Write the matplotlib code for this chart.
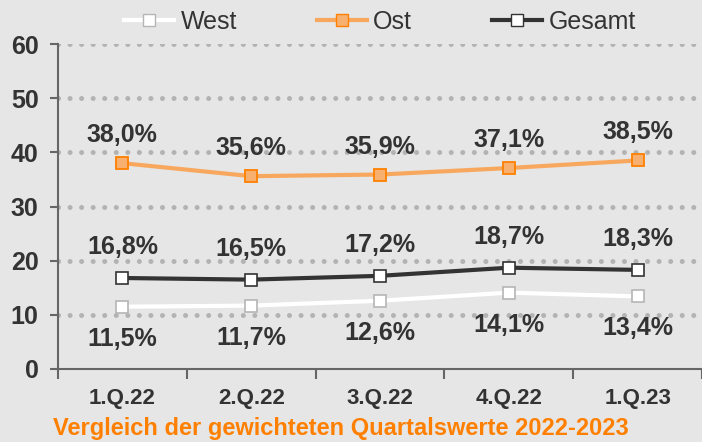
import numpy as np
import matplotlib.pyplot as plt
from matplotlib.lines import Line2D

plt.rcParams['font.family'] = ['Liberation Sans', 'DejaVu Sans']

# Daten
quartale = ['1.Q.22', '2.Q.22', '3.Q.22', '4.Q.22', '1.Q.23']
west = [11.5, 11.7, 12.6, 14.1, 13.4]
ost = [38.0, 35.6, 35.9, 37.1, 38.5]
gesamt = [16.8, 16.5, 17.2, 18.7, 18.3]

bg = '#e6e6e6'
textfarbe = '#333333'
orange_linie = '#f8a85e'
orange_titel = '#ff8000'

fig = plt.figure(figsize=(7.02, 4.42), dpi=100, facecolor=bg)
ax = fig.add_axes([58 / 702, 1 - 369 / 442, 1 - 58 / 702, 325 / 442])
ax.set_facecolor(bg)

x = np.arange(len(quartale))

# Gitterlinien (gepunktet)
for y in range(10, 61, 10):
    ax.axhline(y, color='#b3b3b3', linewidth=3.6, linestyle=(0, (0.01, 2.3)),
               dash_capstyle='round', zorder=1)

ax.plot(x, west, color='white', linewidth=3, marker='s', markersize=9,
        markerfacecolor='white', markeredgecolor='#b5b5b5', markeredgewidth=1.2, zorder=3)
ax.plot(x, ost, color=orange_linie, linewidth=3, marker='s', markersize=9,
        markerfacecolor='#f8b070', markeredgecolor='#ff8000', markeredgewidth=1.3, zorder=3)
ax.plot(x, gesamt, color='#333333', linewidth=3, marker='s', markersize=9,
        markerfacecolor='white', markeredgecolor='#333333', markeredgewidth=1.2, zorder=3)

def fmt(v):
    return f'{v:.1f}%'.replace('.', ',')

for xi, v in zip(x, ost):
    ax.annotate(fmt(v), (xi, v), xytext=(0, 28), textcoords='offset pixels',
                ha='center', va='center', fontsize=18, fontweight='bold', color=textfarbe)
for xi, v in zip(x, gesamt):
    ax.annotate(fmt(v), (xi, v), xytext=(0, 31), textcoords='offset pixels',
                ha='center', va='center', fontsize=18, fontweight='bold', color=textfarbe)
for xi, v in zip(x, west):
    ax.annotate(fmt(v), (xi, v), xytext=(0, -32), textcoords='offset pixels',
                ha='center', va='center', fontsize=18, fontweight='bold', color=textfarbe)

ax.set_xlim(-0.5, 4.5)
ax.set_ylim(0, 60)
ax.set_yticks(range(0, 61, 10))
ax.set_xticks(x)
ax.set_xticklabels(quartale)
ax.set_xticks(np.arange(-0.5, 4.6, 1), minor=True)
ax.tick_params(axis='x', which='major', length=0, pad=14, labelsize=16, labelcolor=textfarbe)
ax.tick_params(axis='x', which='minor', length=7, width=1.5, color='#666666', direction='out')
ax.tick_params(axis='y', length=6, width=1.5, color='#666666', pad=8, labelsize=18,
               labelcolor=textfarbe)
for lab in ax.get_xticklabels() + ax.get_yticklabels():
    lab.set_fontweight('bold')

for s in ['top', 'right']:
    ax.spines[s].set_visible(False)
ax.spines['left'].set_color('#666666')
ax.spines['left'].set_linewidth(1.5)
ax.spines['bottom'].set_color('#666666')
ax.spines['bottom'].set_linewidth(1.5)

handles = [
    Line2D([], [], color='white', linewidth=3, marker='s', markersize=9,
           markerfacecolor='white', markeredgecolor='#b5b5b5'),
    Line2D([], [], color=orange_linie, linewidth=3, marker='s', markersize=9,
           markerfacecolor='#f8b070', markeredgecolor='#ff8000'),
    Line2D([], [], color='#333333', linewidth=3, marker='s', markersize=9,
           markerfacecolor='white', markeredgecolor='#333333'),
]
fig.legend(handles, ['West', 'Ost', 'Gesamt'], loc='center', bbox_to_anchor=(380 / 702, 0.95),
           ncol=3, frameon=False, fontsize=18, handlelength=2.0, handletextpad=0.25,
           columnspacing=3.2, labelcolor=textfarbe)

fig.text(341 / 702, 1 - 428 / 442, 'Vergleich der gewichteten Quartalswerte 2022-2023',
         ha='center', va='center', fontsize=17, fontweight='bold', color=orange_titel)

fig.savefig('out.png', dpi=100, facecolor=bg)
